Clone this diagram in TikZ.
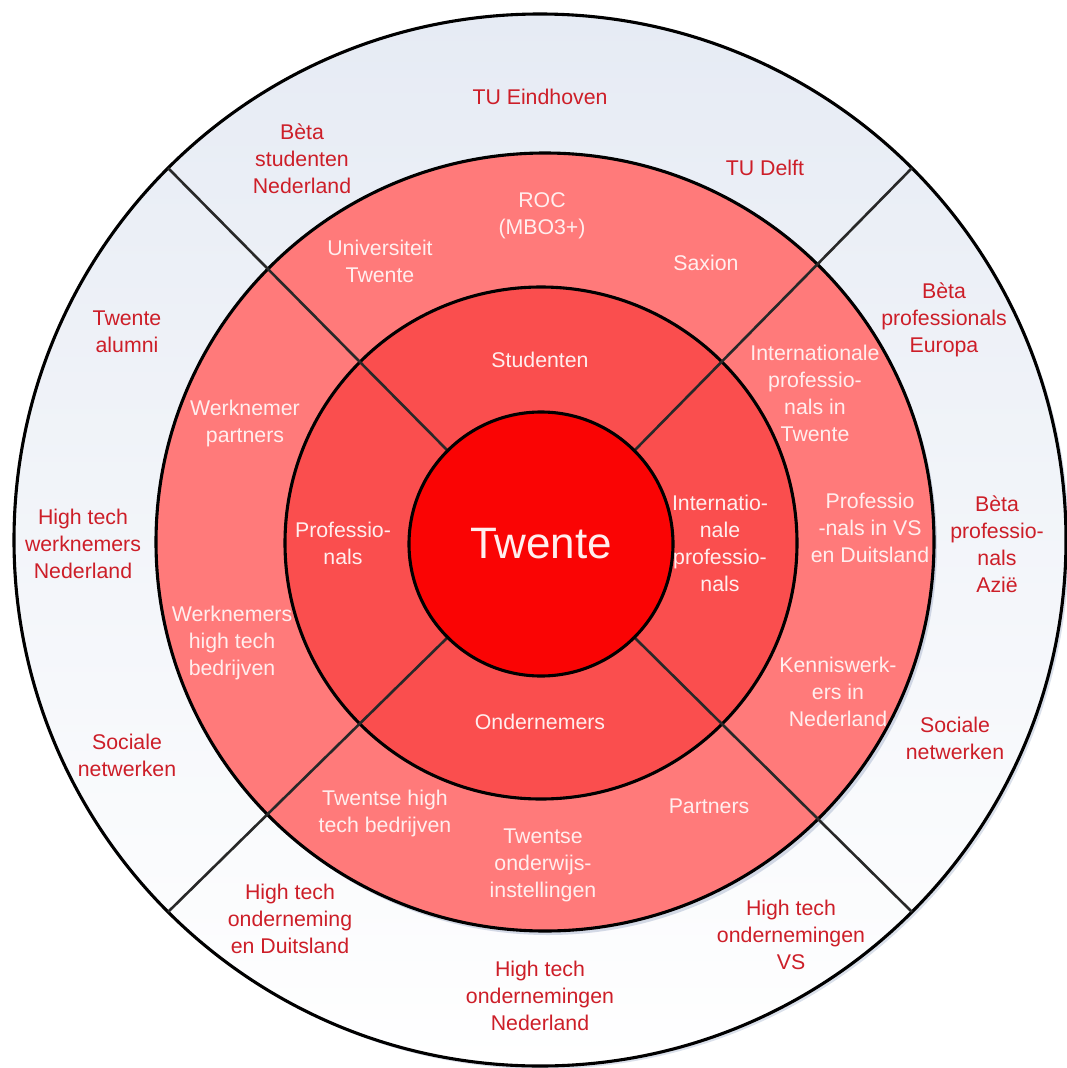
\documentclass[tikz,border=0pt]{standalone}
\usepackage{fontspec}
\setmainfont{Liberation Sans}
\usetikzlibrary{shadows}

\definecolor{outertop}{RGB}{230,235,244}
\definecolor{ringtwo}{RGB}{255,122,122}
\definecolor{ringone}{RGB}{250,78,78}
\definecolor{corered}{RGB}{250,4,4}
\definecolor{outertext}{RGB}{205,30,40}
\definecolor{innertext}{RGB}{255,238,238}
\definecolor{divline}{RGB}{40,40,40}
\definecolor{haze}{RGB}{150,165,195}

\pgfdeclarelayer{back}
\pgfdeclarelayer{mid}
\pgfsetlayers{back,mid,main}

\begin{document}
\begin{tikzpicture}[x=1pt,y=-1pt,
  ring/.style={circle, draw=black, line width=3.1pt, inner sep=0pt, outer sep=0pt},
  divider/.style={draw=divline, line width=2.6pt},
  outerlabel/.style={text=outertext, align=center, inner sep=0pt,
    font=\fontsize{21.3}{27}\selectfont},
  innerlabel/.style={text=innertext, align=center, inner sep=0pt,
    font=\fontsize{21.3}{27}\selectfont}]
\useasboundingbox (0,0) rectangle (1067,1068);

% concentric rings
\begin{pgfonlayer}{back}
  \node[ring, minimum size=1052pt, top color=outertop, bottom color=white,
        drop shadow={shadow xshift=3pt, shadow yshift=-3pt, fill=haze, opacity=0.35}]
        (outer) at (540,540) {};
  \node[ring, minimum size=778pt, fill=ringtwo,
        drop shadow={shadow xshift=3pt, shadow yshift=-4pt, fill=haze, opacity=0.4}]
        (middle) at (545,542) {};
  \node[ring, minimum size=512pt, fill=ringone] (inner) at (541,543) {};
\end{pgfonlayer}

% centre
\node[ring, minimum size=264pt, fill=corered, text=innertext,
      font=\fontsize{44}{50}\selectfont] (core) at (541,544) {Twente};

% sector dividers
\begin{pgfonlayer}{mid}
  \foreach \a in {45,135,225,315}
    \draw[divider] (core.\a) -- (outer.\a);
\end{pgfonlayer}

% outer ring labels
\node[outerlabel] (tue)    at (540,97)  {TU Eindhoven};
\node[outerlabel] (betast) at (302,159) {Bèta\\studenten\\Nederland};
\node[outerlabel] (tud)    at (765,168) {TU Delft};
\node[outerlabel] (alumni) at (127,332) {Twente\\alumni};
\node[outerlabel] (htwn)   at (83,544)  {High tech\\werknemers\\Nederland};
\node[outerlabel] (socl)   at (127,755) {Sociale\\netwerken};
\node[outerlabel] (htde)   at (290,919) {High tech\\onderneming\\en Duitsland};
\node[outerlabel] (htnl)   at (540,996) {High tech\\ondernemingen\\Nederland};
\node[outerlabel] (htvs)   at (791,935) {High tech\\ondernemingen\\VS};
\node[outerlabel] (socr)   at (955,738) {Sociale\\netwerken};
\node[outerlabel] (betaaz) at (997,544) {Bèta\\professio-\\nals\\Azië};
\node[outerlabel] (betaeu) at (944,320) {Bèta\\professionals\\Europa};

% middle ring labels
\node[innerlabel] (roc)    at (542,216) {ROC\\(MBO3+)};
\node[innerlabel] (ut)     at (380,261) {Universiteit\\Twente};
\node[innerlabel] (saxion) at (706,263) {Saxion};
\node[innerlabel] (wnp)    at (245,423) {Werknemer\\partners};
\node[innerlabel] (wnht)   at (232,643) {Werknemers\\high tech\\bedrijven};
\node[innerlabel] (intpt)  at (815,393) {Internationale\\professio-\\nals in\\Twente};
\node[innerlabel] (provs)  at (870,528) {Professio\\-nals in VS\\en Duitsland};
\node[innerlabel] (kenn)   at (838,692) {Kenniswerk-\\ers in\\Nederland};
\node[innerlabel] (partn)  at (709,806) {Partners};
\node[innerlabel] (onderw) at (543,865) {Twentse\\onderwijs-\\instellingen};
\node[innerlabel] (twht)   at (385,813) {Twentse high\\tech bedrijven};

% inner ring labels
\node[innerlabel] (stud)   at (540,360) {Studenten};
\node[innerlabel] (prof)   at (343,543) {Professio-\\nals};
\node[innerlabel] (intp)   at (720,543) {Internatio-\\nale\\professio-\\nals};
\node[innerlabel] (ondn)   at (540,722) {Ondernemers};
\end{tikzpicture}
\end{document}
